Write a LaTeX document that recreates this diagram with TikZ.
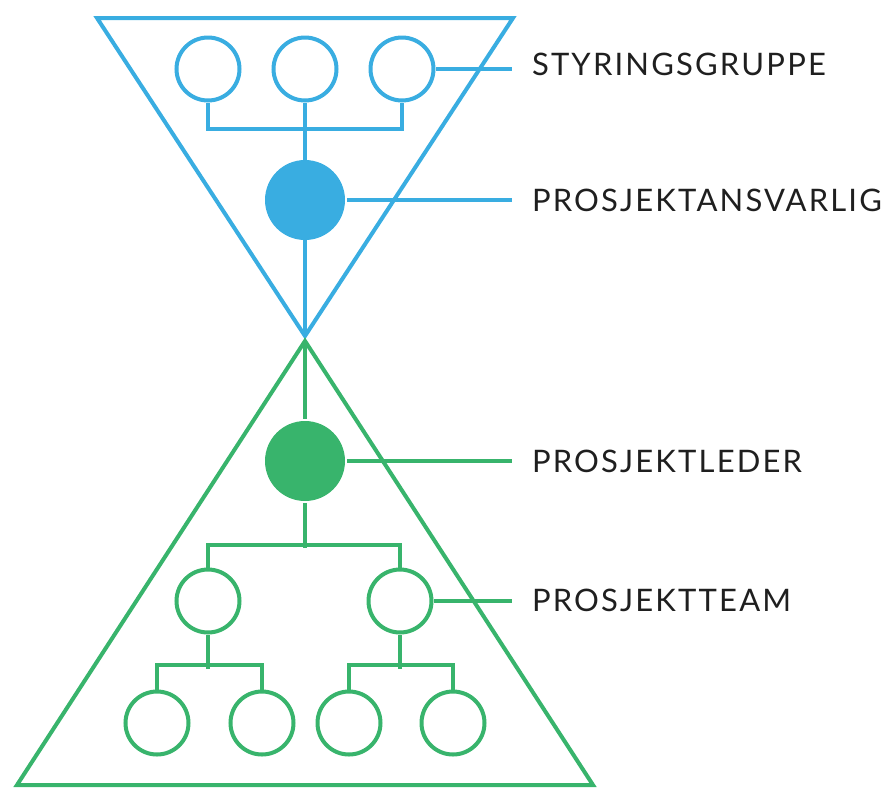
\documentclass[tikz,border=0pt]{standalone}
\usepackage{fontspec}
\setmainfont{Lato}
\newfontfamily\labelfont{Lato}[LetterSpace=7]
\usetikzlibrary{positioning}

\begin{document}
\begin{tikzpicture}[x=1pt,y=-1pt,line width=4pt,
  member/.style={circle,draw,fill=white,minimum size=63,inner sep=0pt},
  leader/.style={circle,fill,minimum size=80,inner sep=0pt},
  rolelabel/.style={anchor=base west,inner xsep=18pt,text=black!88,
    font=\labelfont\fontsize{31}{31}\selectfont}]
\definecolor{skyblue}{HTML}{39ADE1}
\definecolor{leafgreen}{HTML}{38B46C}
\useasboundingbox (0,0) rectangle (887,788);

% labels
\node [rolelabel] (lstyr) at (512,75) {STYRINGSGRUPPE};
\node [rolelabel] (lansv) at (512,211) {PROSJEKTANSVARLIG};
\node [rolelabel] (lled) at (512,472) {PROSJEKTLEDER};
\node [rolelabel] (lteam) at (512,611) {PROSJEKTTEAM};

% upper triangle
\begin{scope}[skyblue]
\coordinate (waist) at (305,336);
\draw (97,18) -- (513,18) -- (waist) -- cycle;
\foreach \i/\x in {1/208,2/305,3/402}
  {  \node [member] (sg\i) at (\x,69) {};}
\draw (sg1.south) -- ++(0,26.5) -| (sg3.south);
\draw (sg2.south) -- (waist);
\node [leader,fill=skyblue] (pa) at (305,200) {};
\draw (sg3.east) -- (sg3.east -| lstyr.west);
\draw (pa.east) -- (pa.east -| lansv.west);
\end{scope}

% lower triangle
\begin{scope}[leafgreen]
\coordinate (foot) at (305,341);
\draw (foot) -- (593,785) -- (17,785) -- cycle;
\node [leader,fill=leafgreen] (pl) at (305,461) {};
\draw (foot) -- (pl);
\foreach \i/\x in {1/208,2/400}
  {  \node [member] (tm\i) at (\x,601) {};}
\foreach \i/\x in {1/157,2/262,3/349,4/453}
  {  \node [member] (mb\i) at (\x,723) {};}
\draw (pl.south) -- ++(0,44.5);
\draw (tm1.north) -- ++(0,-23) -| (tm2.north);
\draw (tm1.south) -- ++(0,34.5);
\draw (mb1.north) -- ++(0,-24.5) -| (mb2.north);
\draw (tm2.south) -- ++(0,34.5);
\draw (mb3.north) -- ++(0,-24.5) -| (mb4.north);
\draw (pl.east) -- (pl.east -| lled.west);
\draw (tm2.east) -- (tm2.east -| lteam.west);
\end{scope}
\end{tikzpicture}
\end{document}
